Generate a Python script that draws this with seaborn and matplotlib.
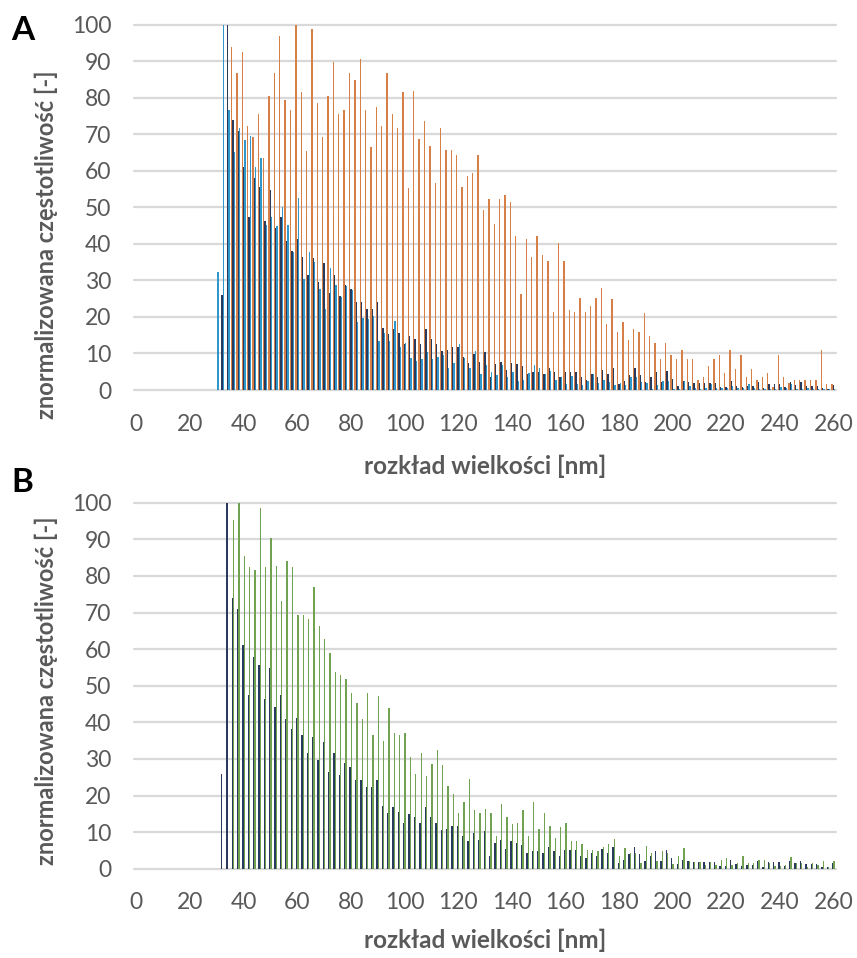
import matplotlib
matplotlib.use("Agg")
import matplotlib.pyplot as plt
import seaborn as sns
import pandas as pd

# Size classes [nm] with non-zero counts (2 nm bins); the axis shows 0-260 nm
sizes_nm = list(range(30, 262, 2))
all_sizes = list(range(0, 262, 2))
tick_labels = [str(v) for v in range(0, 261, 20)]

# normalized frequency per series
ref_series = [
    0, 26.0, 100, 73.9, 70.9, 61.1, 47.4, 57.9, 55.6, 46.3,
    54.7, 44.3, 47.4, 40.8, 38.1, 41.3, 36.5, 31.5, 36.1, 29.7,
    34.7, 26.5, 31.5, 25.6, 28.8, 27.7, 24.2, 24.2, 22.2, 22.2,
    24.2, 17.1, 15.3, 16.8, 15.6, 12.6, 14.9, 14.0, 12.6, 16.8,
    14.0, 12.6, 10.6, 10.9, 11.7, 11.7, 9.0, 7.5, 9.8, 7.8,
    10.3, 3.5, 7.1, 7.8, 5.5, 7.5, 7.1, 6.6, 4.3, 4.8,
    4.8, 4.3, 6.0, 4.8, 3.5, 5.0, 5.0, 5.0, 3.5, 2.8,
    4.3, 3.5, 5.5, 4.4, 5.9, 1.6, 2.4, 4.0, 5.9, 4.0,
    2.1, 3.5, 4.8, 2.1, 5.2, 2.9, 1.2, 2.4, 2.1, 1.9,
    1.9, 1.9, 1.9, 1.9, 0.8, 0.8, 2.4, 1.2, 0.8, 1.0,
    1.0, 2.1, 0.6, 1.7, 1.7, 1.7, 0.8, 2.1, 1.5, 2.1,
    1.2, 1.2, 1.2, 0.6, 0.4, 1.5,
]

orange_series = [
    0, 0, 0, 93.8, 86.7, 92.6, 72.4, 69.3, 75.5, 63.4,
    80.5, 86.7, 96.9, 79.4, 76.6, 100, 81.7, 65.3, 98.8, 78.5,
    69.3, 80.5, 89.9, 75.5, 76.6, 86.7, 84.8, 90.6, 76.6, 66.6,
    77.4, 72.3, 86.7, 75.5, 71.6, 81.7, 55.3, 81.8, 68.6, 73.7,
    66.7, 56.6, 71.8, 65.6, 65.6, 64.4, 55.5, 58.5, 59.4, 64.4,
    49.3, 52.3, 45.4, 52.3, 53.5, 51.6, 42.2, 26.3, 41.3, 36.3,
    42.2, 37.0, 35.2, 21.3, 40.2, 35.2, 22.0, 21.3, 25.1, 21.3,
    23.1, 25.1, 28.0, 18.0, 25.0, 16.0, 18.6, 13.6, 16.7, 15.9,
    21.0, 14.8, 12.9, 8.5, 12.9, 9.7, 8.5, 10.9, 8.5, 8.5,
    2.8, 3.5, 6.7, 8.5, 9.7, 4.7, 10.9, 5.8, 9.7, 3.5,
    5.8, 2.8, 3.5, 4.7, 0.9, 9.7, 3.5, 2.0, 2.8, 2.8,
    2.8, 2.8, 2.8, 10.9, 1.7, 1.7,
]

light_series = [
    32.2, 100, 76.7, 65.1, 71.6, 68.4, 69.6, 61.1, 63.4, 45.2,
    47.4, 44.9, 50.2, 45.2, 37.7, 52.5, 30.3, 37.7, 35.1, 27.6,
    22.1, 33.3, 28.7, 25.5, 28.5, 27.4, 18.5, 19.6, 19.3, 20.3,
    13.5, 15.5, 13.5, 19.0, 11.7, 13.0, 8.8, 8.0, 8.5, 10.3,
    8.5, 9.1, 9.7, 6.0, 7.3, 12.6, 8.8, 6.0, 10.7, 4.4,
    6.8, 4.8, 4.1, 6.8, 3.6, 4.8, 2.6, 2.7, 4.6, 6.8,
    6.0, 4.4, 5.3, 2.8, 3.6, 1.6, 3.9, 1.6, 1.4, 2.6,
    4.4, 2.0, 2.8, 2.1, 1.5, 2.0, 1.3, 3.5, 3.5, 2.1,
    2.0, 0.4, 1.3, 2.5, 2.5, 0.4, 0.4, 2.5, 1.1, 0.6,
    0.4, 0.6, 1.7, 0.6, 0.6, 0.6, 1.1, 0.6, 0.6, 1.7,
    0.6, 0.4, 0.4, 0.4, 0.4, 0.9, 0.5, 1.7, 0.4, 0.4,
    0.5, 0.4, 0.4, 0.4, 0.2, 0.4,
]

green_series = [
    0, 0, 0, 95.3, 100, 85.5, 82.3, 81.6, 98.5, 82.3,
    90.3, 82.8, 73.1, 84.1, 82.3, 69.3, 69.3, 68.1, 77.0, 66.3,
    62.7, 58.8, 53.7, 52.9, 51.7, 47.9, 45.2, 40.8, 47.9, 36.5,
    47.2, 35.0, 44.0, 37.2, 36.5, 37.0, 30.4, 26.0, 31.7, 25.4,
    28.6, 32.5, 28.2, 22.7, 20.4, 15.1, 18.3, 24.6, 16.1, 15.3,
    16.3, 15.1, 8.9, 17.6, 14.0, 12.1, 12.6, 16.1, 8.9, 18.1,
    10.9, 15.3, 11.7, 8.3, 11.3, 12.6, 7.5, 7.5, 6.7, 5.0,
    5.0, 4.9, 5.9, 6.8, 8.0, 3.5, 5.6, 4.4, 4.4, 1.5,
    6.3, 4.4, 2.1, 4.8, 4.4, 1.3, 3.5, 5.6, 2.1, 1.9,
    1.9, 1.0, 1.8, 1.0, 2.4, 2.9, 1.0, 1.5, 3.5, 1.5,
    1.5, 2.4, 2.4, 1.5, 0.8, 0.8, 1.0, 3.1, 1.5, 1.5,
    0.6, 1.5, 1.0, 2.1, 0.6, 2.1,
]

NAVY = "#1F3766"
LIGHT = "#14A0E6"
ORANGE = "#EE7A2E"
GREEN = "#6DB043"
TEXT = "#595959"
GRID = "#D9D9D9"


def long_table(series):
    frames = []
    for name, vals in series.items():
        frames.append(pd.DataFrame({"size": sizes_nm, "series": name, "value": vals}))
    return pd.concat(frames, ignore_index=True)


df_a = long_table({"C": orange_series, "R": ref_series, "L": light_series})
df_b = long_table({"R": ref_series, "G": green_series})

sns.set_theme(style="white")
plt.rcParams["font.family"] = ["Lato", "DejaVu Sans"]

W, H = 857, 958
fig = plt.figure(figsize=(W / 100, H / 100), dpi=100)

x0, x1 = 133.7, 836.0
ax_a = fig.add_axes([x0 / W, 1 - 390 / H, (x1 - x0) / W, (390 - 24.7) / H])
ax_b = fig.add_axes([x0 / W, 1 - 868.7 / H, (x1 - x0) / W, (868.7 - 502.7) / H])

sns.barplot(data=df_a, x="size", y="value", hue="series", order=all_sizes,
            hue_order=["C", "R", "L"], palette=[ORANGE, NAVY, LIGHT],
            width=0.76, errorbar=None, linewidth=0, legend=False, ax=ax_a)
sns.barplot(data=df_b, x="size", y="value", hue="series", order=all_sizes,
            hue_order=["R", "G"], palette=[NAVY, GREEN],
            width=0.5, errorbar=None, linewidth=0, legend=False, ax=ax_b)

for ax in (ax_a, ax_b):
    ax.set_xlim(-0.5, len(all_sizes) - 0.5)
    ax.set_ylim(0, 100)
    ax.set_yticks(range(0, 101, 10))
    ax.set_xticks(range(0, len(all_sizes), 10))
    ax.set_xticklabels(tick_labels)
    ax.tick_params(axis="both", length=0, labelsize=16.5, colors=TEXT)
    ax.tick_params(axis="y", pad=16)
    ax.tick_params(axis="x", pad=17)
    for s in ax.spines.values():
        s.set_visible(False)
    ax.set_axisbelow(True)
    ax.yaxis.grid(True, color=GRID, linewidth=1.6)
    ax.xaxis.grid(False)
    for gl in ax.get_ygridlines():
        gl.set_clip_on(False)
    ax.set_xlabel("")
    ax.set_ylabel("")

ylab = "znormalizowana częstotliwość [-]"
xlab = "rozkład wielkości [nm]"
fig.text(46 / W, 1 - 245 / H, ylab, rotation=90, ha="center", va="center",
         fontsize=17, fontweight="bold", color=TEXT)
fig.text(46 / W, 1 - 691 / H, ylab, rotation=90, ha="center", va="center",
         fontsize=17, fontweight="bold", color=TEXT)
fig.text(485 / W, 1 - 466 / H, xlab, ha="center", va="center",
         fontsize=17.5, fontweight="bold", color=TEXT)
fig.text(485 / W, 1 - 940 / H, xlab, ha="center", va="center",
         fontsize=17.5, fontweight="bold", color=TEXT)
fig.text(23 / W, 1 - 31 / H, "A", ha="center", va="center",
         fontsize=24, fontweight="bold", color="black")
fig.text(22 / W, 1 - 483 / H, "B", ha="center", va="center",
         fontsize=24, fontweight="bold", color="black")

fig.savefig("out.png", dpi=100, facecolor="white")
